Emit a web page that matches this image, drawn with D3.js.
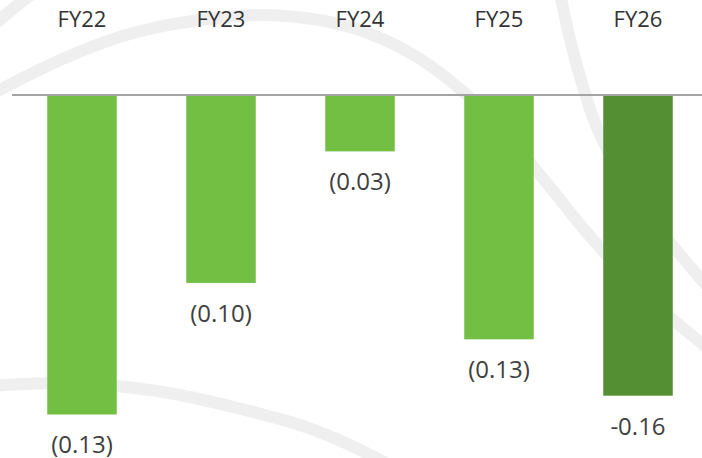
<!DOCTYPE html>
<html>
<head>
<meta charset="utf-8">
<script src="https://cdn.jsdelivr.net/npm/d3@7"></script>
<style>
  body { margin: 0; background: #fff; }
  svg { display: block; }
</style>
</head>
<body>
<script>
// data
const years = ["FY22", "FY23", "FY24", "FY25", "FY26"];
const values = [-0.17, -0.10, -0.03, -0.13, -0.16];
const labels = ["(0.13)", "(0.10)", "(0.03)", "(0.13)", "-0.16"];
const colors = ["#72bf44", "#72bf44", "#72bf44", "#72bf44", "#548f34"];

// decorative background swooshes
const swooshes = [
  [[-10, 95], [67, 57], [133, 33], [200, 20], [267, 15], [350, 27], [417, 57], [483, 110], [550, 187], [583, 228], [640, 290], [712, 352]],
  [[-5, 24], [14, 8], [32, -6]],
  [[560, -6], [574, 55], [596, 125], [628, 188], [668, 240], [712, 292]],
  [[-10, 386], [60, 383], [117, 386], [180, 395], [233, 407], [300, 425], [350, 445], [395, 468]]
];

const width = 702, height = 458;

const svg = d3.select("body").append("svg")
    .attr("width", width)
    .attr("height", height);

const line = d3.line().curve(d3.curveCatmullRom);

svg.append("g").selectAll("path")
    .data(swooshes)
    .enter().append("path")
    .attr("d", line)
    .attr("fill", "none")
    .attr("stroke", "#efefef")
    .attr("stroke-width", 12)
    .attr("stroke-linecap", "round");

// scales
const x = d3.scaleBand()
    .domain(years)
    .range([12.5, 707.5])
    .paddingInner(0.5)
    .paddingOuter(0.25);

const y = d3.scaleLinear()
    .domain([0, -0.16])
    .range([95, 395.7]);

// bars
svg.selectAll("rect.bar")
    .data(years)
    .enter().append("rect")
    .attr("class", "bar")
    .attr("x", d => x(d))
    .attr("y", y(0))
    .attr("width", x.bandwidth())
    .attr("height", (d, i) => y(values[i]) - y(0))
    .attr("fill", (d, i) => colors[i]);

// zero line
svg.append("line")
    .attr("x1", 12)
    .attr("x2", width)
    .attr("y1", y(0))
    .attr("y2", y(0))
    .attr("stroke", "#a3a3a3")
    .attr("stroke-width", 2);

// category labels on top
svg.selectAll("text.cat")
    .data(years)
    .enter().append("text")
    .attr("class", "cat")
    .attr("x", d => x(d) + x.bandwidth() / 2)
    .attr("y", 27)
    .attr("text-anchor", "middle")
    .style("font-family", "Open Sans")
    .style("font-size", "22px")
    .style("fill", "#333")
    .text(d => d);

// value labels under bars
svg.selectAll("text.val")
    .data(years)
    .enter().append("text")
    .attr("class", "val")
    .attr("x", d => x(d) + x.bandwidth() / 2)
    .attr("y", (d, i) => y(values[i]) + 39)
    .attr("text-anchor", "middle")
    .style("font-family", "Open Sans")
    .style("font-size", "24px")
    .style("fill", "#404040")
    .text((d, i) => labels[i]);
</script>
</body>
</html>
